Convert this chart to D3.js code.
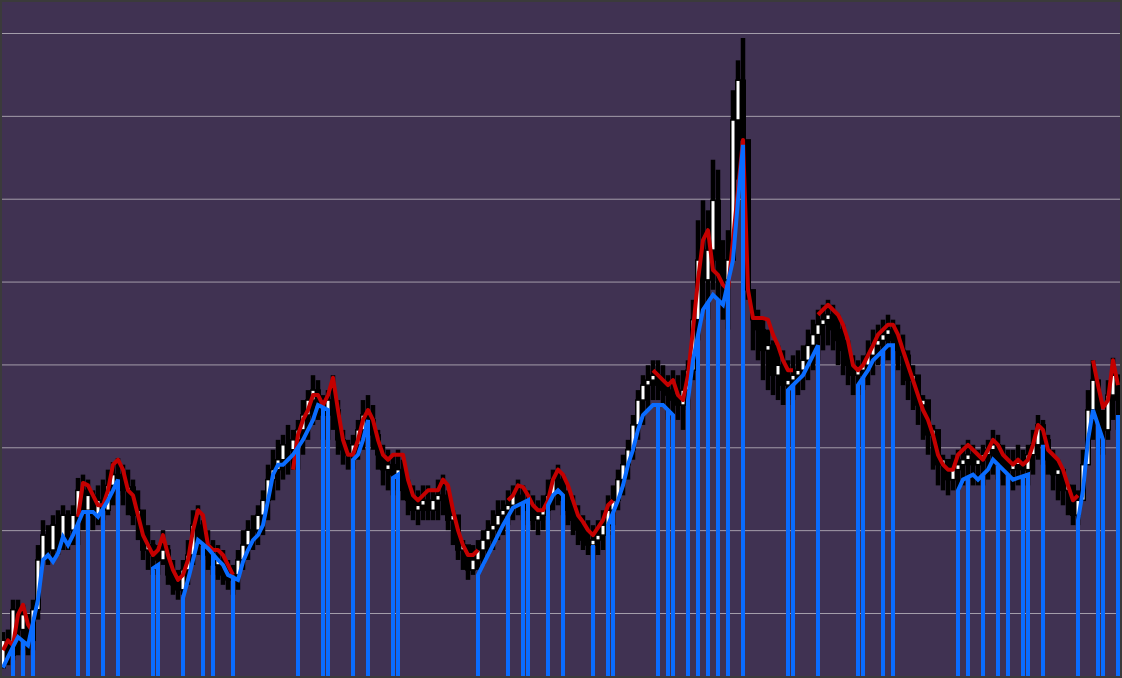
<!DOCTYPE html>
<html><head><meta charset="utf-8">
<script src="https://cdn.jsdelivr.net/npm/d3@7"></script>
<style>html,body{margin:0;padding:0;background:#3b3b3b;overflow:hidden}</style>
</head><body><svg id="c" width="1122" height="678"></svg>
<script>
const highs=[7.7,8.0,11.6,11.6,11.0,9.8,11.6,18.2,21.2,20.6,
21.8,22.4,23.0,22.4,23.0,26.3,26.7,26.1,24.8,25.4,
26.1,27.3,28.2,28.7,27.9,27.3,26.1,24.8,22.4,20.6,
18.8,18.2,20.0,18.2,16.4,15.2,16.4,18.8,22.4,23.0,
21.2,20.0,18.8,18.2,17.6,16.4,15.8,17.6,20.0,21.2,
21.8,23.0,24.8,27.9,29.7,30.9,31.5,32.7,32.1,33.3,
35.7,36.9,38.7,38.1,36.3,36.9,38.7,35.7,32.1,30.9,
31.5,33.3,35.7,36.3,35.1,32.1,30.3,29.7,29.1,29.7,
28.5,26.1,25.4,24.8,25.4,25.4,24.8,26.1,26.7,24.8,
22.4,20.0,18.8,17.6,18.2,18.8,20.0,21.2,22.4,23.6,
23.6,24.8,25.4,26.1,25.4,24.8,24.2,23.6,24.2,26.1,
27.3,27.9,26.7,24.8,24.2,23.0,21.8,21.2,20.6,21.2,
22.4,24.2,25.4,27.3,29.1,30.9,33.9,36.9,38.7,39.9,
40.5,40.5,39.9,38.7,39.3,38.7,39.3,40.5,47.8,57.4,
59.8,58.6,64.7,63.5,55.0,56.2,73.1,76.7,79.4,62.3,
49.0,46.6,45.4,44.2,42.9,42.3,41.7,40.5,41.1,41.7,
42.3,44.2,45.4,46.6,47.2,47.8,47.2,46.0,44.8,42.9,
41.1,40.5,41.1,42.9,44.2,44.8,45.4,46.0,45.4,44.8,
43.6,41.7,39.9,38.1,36.3,34.5,32.7,30.9,29.1,28.5,
29.1,29.7,30.3,30.9,30.3,29.7,30.3,30.9,32.1,31.5,
30.3,29.7,29.7,30.3,29.7,30.3,32.1,33.9,33.3,31.5,
29.7,28.5,27.3,25.4,24.2,24.8,29.7,36.9,40.5,38.1,
34.5,38.1,40.8,38.1];
const lows=[3.4,3.7,4.3,4.9,5.5,4.9,5.5,9.2,16.4,15.8,
16.4,17.0,17.6,17.6,18.2,18.2,20.0,20.0,20.0,20.6,
21.2,21.8,23.0,24.2,23.0,21.8,20.6,18.8,16.4,15.2,
14.6,14.6,15.8,13.4,12.2,11.6,12.2,13.4,15.8,17.0,
16.4,15.2,14.6,14.0,13.4,12.8,12.2,12.8,15.2,16.4,
17.6,18.2,19.4,21.2,23.6,24.8,26.1,26.7,27.3,27.3,
29.1,30.9,32.7,33.3,30.9,30.9,32.1,29.1,27.9,27.3,
27.3,28.5,29.7,30.9,29.7,27.3,25.4,24.8,24.2,24.8,
23.6,21.8,21.2,20.6,21.2,21.2,21.2,21.2,21.8,20.0,
18.2,16.4,15.2,14.0,14.6,15.2,15.8,17.0,17.6,18.8,
19.4,20.6,21.2,21.8,21.2,20.6,20.0,19.4,20.0,21.2,
22.4,23.0,21.8,20.6,19.4,18.2,17.6,17.0,16.4,17.0,
17.6,19.4,20.6,22.4,24.2,26.1,28.5,30.9,32.7,34.5,
35.7,35.7,35.1,33.3,33.9,33.3,32.1,34.5,38.1,42.9,
46.6,45.4,49.0,47.8,45.4,44.2,52.6,62.3,65.9,47.8,
41.7,40.5,38.1,36.9,36.3,35.7,35.1,35.1,35.7,36.3,
36.9,38.1,39.3,40.5,41.7,42.3,41.7,39.9,38.7,37.5,
36.3,36.3,36.9,37.5,38.7,39.9,40.5,40.5,40.5,39.3,
37.5,35.7,34.5,32.7,30.9,29.1,27.3,25.4,24.8,24.2,
24.8,24.8,25.4,26.1,25.4,25.4,25.4,26.1,26.7,26.1,
25.4,25.4,24.8,25.4,25.4,25.4,26.7,28.5,27.9,26.7,
24.8,23.6,23.0,21.8,20.6,20.6,23.6,28.5,30.9,29.7,
29.1,30.9,33.3,32.1];
const closes=[6.7,4.9,10.4,8.0,9.8,6.7,10.4,16.4,19.4,17.6,
20.6,18.8,21.8,20.0,21.8,24.8,22.4,24.2,21.8,23.6,
22.4,25.4,26.7,25.4,24.8,25.2,21.8,22.4,17.6,18.2,
17.0,16.4,17.6,14.6,13.4,12.8,15.2,17.0,20.6,18.8,
18.2,17.0,15.8,16.4,14.6,14.0,14.6,16.4,18.2,20.0,
20.0,21.8,23.6,26.1,27.3,28.5,30.3,29.7,30.9,32.1,
33.9,35.7,36.9,35.1,33.9,35.7,34.5,30.9,29.7,29.1,
30.3,32.1,33.9,33.3,31.5,29.1,27.3,27.9,26.7,27.3,
24.8,23.6,22.4,23.0,23.6,22.4,23.6,24.2,23.6,21.2,
21.8,17.6,18.2,15.2,16.4,17.6,18.8,20.0,20.6,21.8,
22.4,23.0,24.2,23.6,23.0,22.4,21.2,21.8,22.4,24.2,
26.1,26.1,23.6,22.4,21.2,20.0,18.8,18.2,18.8,19.4,
20.6,22.4,23.6,26.1,27.9,29.7,32.7,35.7,37.5,38.1,
38.7,37.5,36.9,36.3,35.7,35.1,36.9,39.3,45.4,52.6,
50.2,53.8,59.8,52.6,50.2,52.6,69.5,74.3,67.1,49.0,
45.4,44.2,41.7,42.3,38.7,39.9,37.5,38.1,38.7,39.3,
40.5,42.3,43.6,44.8,45.4,46.0,44.2,42.9,41.7,39.9,
38.7,39.3,39.9,41.1,42.3,42.9,43.6,44.2,42.9,41.7,
41.1,38.1,38.7,35.1,35.7,31.5,32.1,27.9,28.5,26.1,
27.3,27.9,28.5,29.1,27.9,28.5,29.1,29.7,30.3,28.5,
27.9,27.3,27.9,28.5,27.3,29.1,30.3,32.7,30.9,28.5,
26.7,27.3,24.8,25.4,21.8,23.6,27.9,34.5,38.1,33.3,
32.1,36.3,38.7,35.7];
const upperBand=[5.5,6.7,6.1,9.8,11.0,8.6,7.7,null,null,null,
null,null,null,null,null,21.6,25.7,25.4,24.2,23.0,
23.0,24.8,27.9,28.5,27.3,24.8,24.2,21.8,19.4,18.2,
17.0,17.6,19.4,17.0,15.2,14.0,14.6,16.4,20.0,22.4,
21.8,18.2,17.6,17.6,17.0,15.8,14.6,null,null,null,
null,null,null,null,null,null,null,null,27.3,31.5,
33.3,34.5,36.3,36.3,35.1,36.3,38.4,34.5,30.9,29.1,
29.1,30.9,33.3,34.5,33.3,30.9,29.1,28.5,29.1,29.1,
29.1,26.1,24.2,23.6,24.2,24.8,24.8,24.8,26.1,25.4,
22.4,20.0,18.2,17.0,17.0,17.6,null,null,null,null,
null,23.6,24.2,25.4,25.2,24.2,23.0,22.4,22.4,23.6,
26.1,27.3,26.7,25.4,23.6,21.8,21.0,20.0,19.4,20.3,
21.2,23.0,23.6,null,null,null,null,null,null,null,
39.3,38.7,38.1,37.5,38.1,36.3,35.7,38.7,44.2,50.2,
55.0,56.2,51.4,50.8,49.6,49.0,55.0,61.1,67.1,49.0,
45.6,45.6,45.6,45.4,43.6,42.3,40.5,39.3,39.3,null,
null,null,null,46.0,46.6,47.2,46.6,46.0,44.8,42.9,
39.9,39.3,39.9,41.1,42.3,43.6,44.2,44.8,44.8,43.6,
41.7,39.9,38.1,36.3,34.5,33.3,31.5,29.1,27.9,27.3,
27.3,29.1,29.7,30.3,29.7,29.1,28.5,29.7,30.9,30.3,
29.1,28.5,27.9,28.5,27.9,28.5,30.3,32.7,32.1,29.7,
29.1,28.5,27.3,25.4,23.6,24.2,null,null,40.5,37.5,
34.8,35.7,40.5,37.5];
const lowerBand=[3.4,4.7,0,7.1,0,6.1,0,11.6,16.4,17.0,
16.2,17.2,19.2,18.2,19.4,0,22.2,0,22.2,21.6,
0,23.6,24.8,26.1,0,0,0,0,0,0,
15.4,15.8,0,0,0,0,11.8,14.0,16.4,18.8,
0,17.8,0,16.4,15.8,14.6,0,14.0,16.2,17.6,
18.8,19.4,20.6,23.6,26.7,27.9,27.9,28.5,29.1,0,
30.9,32.1,33.3,35.1,0,34.5,0,0,0,0,
28.5,29.1,30.9,33.3,0,0,0,0,26.3,26.7,
0,0,0,0,0,0,0,0,0,0,
0,0,0,0,0,14.6,15.8,17.0,18.2,19.4,
20.6,0,22.7,23.0,0,23.6,0,0,0,23.0,
24.2,24.8,24.2,0,0,0,0,0,18.2,0,
0,20.6,0,23.6,25.4,27.9,29.7,32.1,33.9,34.5,
35.1,0,35.1,0,33.9,0,0,35.7,40.5,0,
46.6,0,48.4,0,47.2,0,52.6,59.8,66.5,0,
0,0,0,0,0,0,0,36.9,0,38.1,
38.7,39.9,41.1,42.3,0,0,0,0,0,0,
0,37.5,0,39.3,40.5,41.1,0,42.3,42.3,0,
0,0,0,0,0,0,0,0,0,0,
0,24.8,26.1,0,26.7,26.1,0,27.3,28.5,0,
27.3,0,26.1,26.3,0,26.7,0,0,30.3,0,
0,0,0,0,0,21.2,24.8,30.9,34.5,0,
30.9,0,0,33.9];
const gridTicks=[10,20,30,40,50,60,70,80];

const W=1122,H=678;
const P={x0:2,y0:2,x1:1120,y1:676};
const svg=d3.select('#c');
svg.append('rect').attr('width',W).attr('height',H).attr('fill','#3b3b3b');
svg.append('rect').attr('x',P.x0).attr('y',P.y0).attr('width',P.x1-P.x0).attr('height',P.y1-P.y0).attr('fill','#403252');
svg.append('defs').append('clipPath').attr('id','clip').append('rect')
  .attr('x',P.x0).attr('y',P.y0).attr('width',P.x1-P.x0).attr('height',P.y1-P.y0);

const n=highs.length;
const x=d3.scaleLinear().domain([0,n-1]).range([3,1118]);
const y=d3.scaleLinear().domain([10,80]).range([613,33]);

const grid=svg.append('g').attr('transform',`translate(${P.x0},0)`)
  .call(d3.axisLeft(y).tickValues(gridTicks).tickSize(-(P.x1-P.x0)).tickFormat(''));
grid.select('.domain').remove();
grid.selectAll('line').attr('stroke','#a39daa').attr('stroke-width',1);

const g=svg.append('g').attr('clip-path','url(#clip)');
const data=highs.map((h,i)=>({i,h,l:lows[i],c:closes[i],o:i?closes[i-1]:lows[i],u:upperBand[i]}));

// candles
const cg=g.append('g');
cg.selectAll('line.w').data(data).join('line').attr('class','w')
  .attr('x1',d=>x(d.i)).attr('x2',d=>x(d.i)).attr('y1',d=>y(d.h)).attr('y2',d=>y(d.l))
  .attr('stroke','#000').attr('stroke-width',4.5);
cg.selectAll('rect.b').data(data).join('rect').attr('class','b')
  .attr('x',d=>x(d.i)-2.25).attr('width',4.5)
  .attr('y',d=>y(Math.max(d.o,d.c))).attr('height',d=>Math.max(1.5,Math.abs(y(d.o)-y(d.c))))
  .attr('fill',d=>d.c>d.o?'#fff':'#000').attr('stroke','#000').attr('stroke-width',1.5);

// upper band (red), gaps where undefined
g.append('path').datum(data).attr('fill','none').attr('stroke','#c40000').attr('stroke-width',4)
  .attr('stroke-linejoin','round')
  .attr('d',d3.line().defined(d=>d.u!=null).x(d=>x(d.i)).y(d=>y(d.u)));

// lower band (blue): zero values fall straight to the floor
const blueVerts=[];
lowerBand.forEach((v,i)=>{
  if(v>0){blueVerts.push([i,v]);return;}
  const pv=i>0?lowerBand[i-1]:0, nv=i<n-1?lowerBand[i+1]:0;
  if(pv>0&&nv>0){const m=(pv+nv)/2;blueVerts.push([i,m],[i,0],[i,m]);}
  else if(pv>0){blueVerts.push([i-1,0]);}
  else if(nv>0){blueVerts.push([i+1,0]);}
  else blueVerts.push([i,0]);
});
g.append('path').datum(blueVerts).attr('fill','none').attr('stroke','#0a6cff').attr('stroke-width',4)
  .attr('stroke-linejoin','miter')
  .attr('d',d3.line().x(d=>x(d[0])).y(d=>y(d[1])));
</script></body></html>
